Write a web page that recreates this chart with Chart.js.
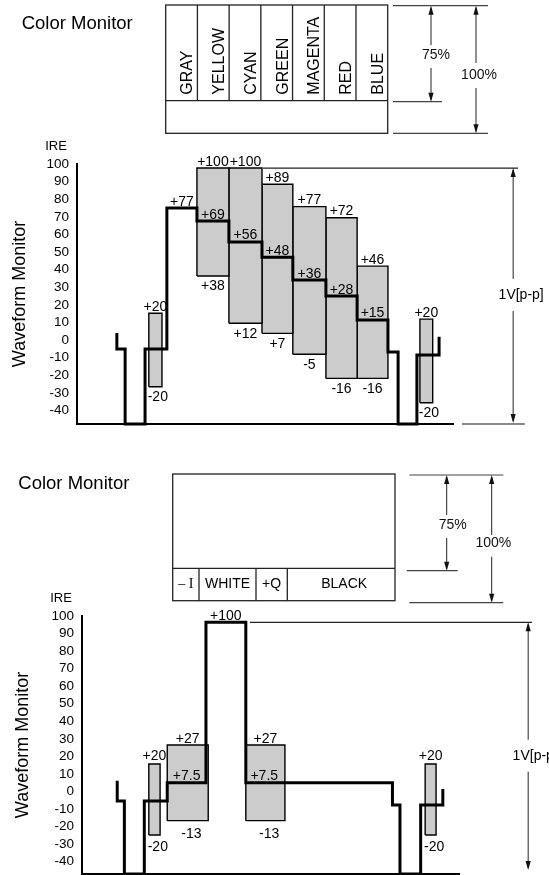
<!DOCTYPE html>
<html>
<head>
<meta charset="utf-8">
<script src="https://cdn.jsdelivr.net/npm/chart.js@4.4.0/dist/chart.umd.min.js"></script>
<style>
  html, body { margin: 0; padding: 0; background: #fff; }
  #wrap { position: relative; width: 549px; height: 875px; overflow: hidden; }
  canvas { position: absolute; left: 0; top: 0; }
</style>
</head>
<body>
<div id="wrap">
  <canvas id="barsChart" width="549" height="875"></canvas>
  <canvas id="pulseChart" width="549" height="875"></canvas>
</div>
<script>
const FONT = '"Liberation Sans", Arial, Helvetica, sans-serif';
Chart.defaults.font.family = FONT;
Chart.defaults.color = '#000';

const yTicks = [100, 90, 80, 70, 60, 50, 40, 30, 20, 10, 0, -10, -20, -30, -40];

// upper figure: colour bars
const barNames = ['GRAY', 'YELLOW', 'CYAN', 'GREEN', 'MAGENTA', 'RED', 'BLUE'];
const barsWaveX = [10.6, 10.6, 12.8, 12.8, 18.1, 18.1, 23.9, 23.9, 31.9, 31.9, 40.4, 40.4, 49.2, 49.2,
                   57.4, 57.4, 66.2, 66.2, 74.5, 74.5, 82.7, 82.7, 85.4, 85.4, 90.4, 90.4, 96.3, 96.3];
const barsWaveY = [4, -5.1, -5.1, -47.7, -47.7, -5.1, -5.1, 75, 75, 67.6, 67.6, 55.7, 55.7, 47,
                   47, 34.1, 34.1, 25, 25, 11.4, 11.4, -6.8, -6.8, -47.7, -47.7, -8.5, -8.5, 1.9];
const grayLevel = 75;
const grayText = '+77';
const chromaStart = [31.9, 40.4, 49.2, 57.4, 66.2, 74.5];
const chromaEnd = [40.4, 49.2, 57.4, 66.2, 74.5, 82.7];
const chromaHigh = [97.7, 97.7, 88.5, 75.8, 69.5, 42];
const chromaLow = [36.4, 9.5, 3.8, -8.1, -21.8, -21.8];
const lumaLevel = [67.6, 55.7, 47, 34.1, 25, 11.4];
const chromaHighText = ['+100', '+100', '+89', '+77', '+72', '+46'];
const chromaLowText = ['+38', '+12', '+7', '-5', '-16', '-16'];
const lumaText = ['+69', '+56', '+48', '+36', '+28', '+15'];
const barsBurstStart = [19.1, 91.2];
const barsBurstEnd = [22.6, 94.6];
const barsBurstHigh = [15.2, 11.9];
const barsBurstLow = [-26.5, -35.6];

// lower figure: -I / white / +Q / black
const pulseNames = ['\u2013 I', 'WHITE', '+Q', 'BLACK'];
const pulseWaveX = [10.7, 10.7, 12.6, 12.6, 17.9, 17.9, 24.0, 24.0, 34.3, 34.3,
                    44.9, 44.9, 83.9, 83.9, 85.9, 85.9, 91.4, 91.4, 97.3, 97.3];
const pulseWaveY = [6.2, -5.4, -5.4, -47, -47, -5.4, -5.4, 5, 5, 96.4,
                    96.4, 5, 5, -7.7, -7.7, -47, -47, -7.7, -7.7, 1.4];
const whiteLevel = 96.4;
const whiteText = '+100';
const iqStart = [24.0, 44.9];
const iqEnd = [34.9, 55.3];
const iqHigh = [26.5, 26.5];
const iqLow = [-16.6, -16.6];
const setupLevel = 5;
const iqHighText = ['+27', '+27'];
const iqLowText = ['-13', '-13'];
const setupText = ['+7.5', '+7.5'];
const pulseBurstStart = [19.1, 92.6];
const pulseBurstEnd = [22.1, 95.5];
const pulseBurstHigh = [15.7, 15.7];
const pulseBurstLow = [-24.8, -24.8];
const burstText = ['+20', '-20'];

function rect(x0, x1, lo, hi) {
  return [{x: x0, y: lo}, {x: x0, y: hi}, {x: x1, y: hi}, {x: x1, y: lo}, {x: x0, y: lo}];
}
function boxSet(x0, x1, lo, hi) {
  return {
    data: rect(x0, x1, lo, hi), borderColor: '#000', borderWidth: 1.4,
    backgroundColor: '#cccccc', fill: 'shape', pointRadius: 0, tension: 0,
    borderJoinStyle: 'miter', clip: false, order: 2
  };
}
function waveSet(xs, ys) {
  return {
    data: xs.map((x, i) => ({x: x, y: ys[i]})), borderColor: '#000', borderWidth: 3,
    fill: false, pointRadius: 0, tension: 0, borderJoinStyle: 'miter', clip: false, order: 1
  };
}

function head(ctx, x, y, dir) {
  ctx.beginPath();
  ctx.moveTo(x, y);
  ctx.lineTo(x - 2.6, y - dir * 9);
  ctx.lineTo(x + 2.6, y - dir * 9);
  ctx.closePath();
  ctx.fill();
}
function dimArrow(ctx, x, y0, y1, g0, g1) {
  ctx.beginPath();
  ctx.moveTo(x, y0 + 2); ctx.lineTo(x, g0);
  ctx.moveTo(x, g1); ctx.lineTo(x, y1 - 2);
  ctx.stroke();
  head(ctx, x, y0, -1);
  head(ctx, x, y1, 1);
}

function sketch(cfg) {
  return {
    id: 'sketch',
    afterDatasetsDraw(chart) {
      const {ctx} = chart;
      const sx = chart.scales.x, sy = chart.scales.y;
      ctx.save();
      ctx.font = '14px ' + FONT;
      ctx.fillStyle = '#000';
      ctx.textBaseline = 'alphabetic';
      cfg.labels.forEach(l => {
        const px = sx.getPixelForValue(l.x), py = sy.getPixelForValue(l.y);
        ctx.textAlign = l.align || 'center';
        if (l.pos === 'above') ctx.fillText(l.text, px, py - 2.5);
        else ctx.fillText(l.text, px, py + 14.5);
      });
      ctx.restore();
    },
    afterDraw(chart) {
      const {ctx, chartArea} = chart;
      const sx = chart.scales.x, sy = chart.scales.y;
      ctx.save();
      ctx.fillStyle = '#000';
      // IRE over the axis
      ctx.font = '13px ' + FONT;
      ctx.textAlign = 'center';
      ctx.textBaseline = 'middle';
      ctx.fillText('IRE', chartArea.left - 21, chartArea.top - 17.5);

      // colour monitor caption
      ctx.font = '18.5px ' + FONT;
      ctx.textAlign = 'left';
      ctx.fillText('Color Monitor', cfg.caption.x, cfg.caption.y);

      // monitor screen
      const m = cfg.monitor;
      ctx.strokeStyle = '#222';
      ctx.lineWidth = 1.3;
      ctx.strokeRect(m.left, m.top, m.right - m.left, m.bottom - m.top);
      ctx.beginPath();
      ctx.moveTo(m.left, m.row); ctx.lineTo(m.right, m.row);
      let cx = m.left;
      const edges = [];
      m.widths.forEach(w => { edges.push([cx, cx + w]); cx += w; });
      edges.slice(0, -1).forEach(e => {
        ctx.moveTo(e[1], m.vertical ? m.top : m.row);
        ctx.lineTo(e[1], m.vertical ? m.row : m.bottom);
      });
      ctx.stroke();
      m.names.forEach((name, i) => {
        const e = edges[i];
        if (m.vertical) {
          ctx.save();
          ctx.font = '16px ' + FONT;
          ctx.translate(e[1] - 5, m.row - 6);
          ctx.rotate(-Math.PI / 2);
          ctx.textAlign = 'left';
          ctx.textBaseline = 'alphabetic';
          ctx.fillText(name, 0, 0);
          ctx.restore();
        } else {
          ctx.font = (i === 0 ? '14px "Liberation Serif", serif' : '14px ' + FONT);
          ctx.textAlign = 'center';
          ctx.textBaseline = 'middle';
          ctx.fillText(name, (e[0] + e[1]) / 2 + (m.shift[i] || 0), (m.row + m.bottom) / 2);
        }
      });

      // 75% / 100% dimension marks
      ctx.strokeStyle = '#444';
      ctx.lineWidth = 1.2;
      ctx.beginPath();
      cfg.dims.lines.forEach(l => { ctx.moveTo(l[0], l[2]); ctx.lineTo(l[1], l[2]); });
      ctx.stroke();
      ctx.strokeStyle = '#222';
      ctx.lineWidth = 1;
      ctx.fillStyle = '#111';
      ctx.font = '14px ' + FONT;
      ctx.textAlign = 'center';
      ctx.textBaseline = 'middle';
      cfg.dims.arrows.forEach(a => {
        dimArrow(ctx, a.x, a.y0, a.y1, a.g0, a.g1);
        ctx.fillText(a.text, a.tx, a.ty);
      });

      // 1V[p-p] reference
      const v = cfg.volt;
      const ax = sx.getPixelForValue(v.x);
      const yTop = sy.getPixelForValue(v.top);
      const yBot = sy.getPixelForValue(v.bottom);
      const yTxt = sy.getPixelForValue(v.textAt);
      ctx.strokeStyle = '#222';
      ctx.lineWidth = 1.2;
      ctx.beginPath();
      ctx.moveTo(sx.getPixelForValue(v.lineFrom), yTop);
      ctx.lineTo(sx.getPixelForValue(v.lineTo), yTop);
      ctx.stroke();
      if (v.baseFrom !== undefined) {
        ctx.strokeStyle = '#888';
        ctx.lineWidth = 2;
        ctx.beginPath();
        ctx.moveTo(sx.getPixelForValue(v.baseFrom), yBot);
        ctx.lineTo(sx.getPixelForValue(v.baseTo), yBot);
        ctx.stroke();
      }
      ctx.strokeStyle = '#222';
      ctx.lineWidth = 1;
      dimArrow(ctx, ax, yTop, yBot - v.tipLift, yTxt - 16, yTxt + 16);
      ctx.fillStyle = '#000';
      ctx.fillText('1V[p-p]', ax + v.textDx, yTxt);
      ctx.restore();
    }
  };
}

// label lists built from the data
const barsLabels = [{x: 27.9, y: grayLevel, text: grayText, pos: 'above'}];
chromaStart.forEach((x0, i) => {
  const c = (x0 + chromaEnd[i]) / 2;
  barsLabels.push({x: c, y: chromaHigh[i], text: chromaHighText[i], pos: 'above'});
  barsLabels.push({x: c, y: chromaLow[i], text: chromaLowText[i], pos: 'below'});
  barsLabels.push({x: c, y: lumaLevel[i], text: lumaText[i], pos: 'above'});
});
barsBurstStart.forEach((x0, i) => {
  barsLabels.push({x: (x0 + barsBurstEnd[i]) / 2, y: barsBurstHigh[i], text: burstText[0], pos: 'above'});
  barsLabels.push({x: x0 - 0.3, y: barsBurstLow[i], text: burstText[1], pos: 'below', align: 'left'});
});

const pulseLabels = [{x: (34.3 + 44.9) / 2, y: whiteLevel, text: whiteText, pos: 'above'}];
iqStart.forEach((x0, i) => {
  const c = (x0 + iqEnd[i]) / 2;
  pulseLabels.push({x: c, y: iqHigh[i], text: iqHighText[i], pos: 'above'});
  pulseLabels.push({x: c + 1, y: iqLow[i] - 1.5, text: iqLowText[i], pos: 'below'});
  pulseLabels.push({x: c - 0.3, y: setupLevel, text: setupText[i], pos: 'above'});
});
pulseBurstStart.forEach((x0, i) => {
  pulseLabels.push({x: (x0 + pulseBurstEnd[i]) / 2, y: pulseBurstHigh[i] + 1, text: burstText[0], pos: 'above'});
  pulseLabels.push({x: x0 - 0.3, y: pulseBurstLow[i] - 1, text: burstText[1], pos: 'below', align: 'left'});
});

function axes(xMin, xMax, yMin, axisWidth, titlePad) {
  return {
    x: {
      type: 'linear', min: xMin, max: xMax,
      grid: {display: false, drawTicks: false},
      ticks: {display: false},
      border: {display: true, color: '#000', width: 2},
      afterFit: s => { s.height = 0; s.paddingLeft = 0; s.paddingRight = 0; }
    },
    y: {
      type: 'linear', min: yMin, max: 100,
      afterBuildTicks: s => { s.ticks = yTicks.map(v => ({value: v})); },
      afterFit: s => { s.width = axisWidth; s.paddingTop = 0; s.paddingBottom = 0; },
      grid: {display: false, drawTicks: false},
      border: {display: true, color: '#000', width: 2},
      ticks: {font: {size: 13.5}, color: '#000', padding: 8, autoSkip: false, callback: v => String(v)},
      title: {display: true, text: 'Waveform Monitor', color: '#000', font: {size: 18}, padding: {top: titlePad, bottom: 0}}
    }
  };
}

const barsSets = [waveSet(barsWaveX, barsWaveY)];
chromaStart.forEach((x0, i) => barsSets.push(boxSet(x0, chromaEnd[i], chromaLow[i], chromaHigh[i])));
barsBurstStart.forEach((x0, i) => barsSets.push(boxSet(x0, barsBurstEnd[i], barsBurstLow[i], barsBurstHigh[i])));

new Chart(document.getElementById('barsChart'), {
  type: 'line',
  data: {datasets: barsSets},
  options: {
    responsive: false, animation: false, events: [],
    layout: {padding: {top: 164, right: 96, bottom: 451, left: 0}},
    scales: axes(0, 100, -47.7, 77, 9),
    plugins: {legend: {display: false}, tooltip: {enabled: false}}
  },
  plugins: [sketch({
    labels: barsLabels,
    caption: {x: 21.7, y: 24},
    monitor: {left: 165.7, top: 5, right: 387.7, bottom: 133.3, row: 100.7,
              widths: barNames.map(() => 222 / barNames.length), names: barNames, vertical: true},
    dims: {
      lines: [[393, 488, 5.7], [393, 442, 101.7], [393, 488, 133.3]],
      arrows: [
        {x: 431, y0: 5.7, y1: 101.7, g0: 45, g1: 68, text: '75%', tx: 436, ty: 55},
        {x: 476, y0: 5.7, y1: 133.3, g0: 63, g1: 88, text: '100%', tx: 479, ty: 75}
      ]
    },
    volt: {x: 116, top: 97.7, bottom: -47.7, textAt: 25.6, textDx: 8, tipLift: 1,
           lineFrom: 49.5, lineTo: 117.3, baseFrom: 102.4, baseTo: 119.1}
  })]
});

const pulseSets = [waveSet(pulseWaveX, pulseWaveY)];
iqStart.forEach((x0, i) => pulseSets.push(boxSet(x0, iqEnd[i], iqLow[i], iqHigh[i])));
pulseBurstStart.forEach((x0, i) => pulseSets.push(boxSet(x0, pulseBurstEnd[i], pulseBurstLow[i], pulseBurstHigh[i])));

new Chart(document.getElementById('pulseChart'), {
  type: 'line',
  data: {datasets: pulseSets},
  options: {
    responsive: false, animation: false, events: [],
    layout: {padding: {top: 616, right: 90, bottom: 1, left: 0}},
    scales: axes(1.33, 101.6, -47, 82, 12),
    plugins: {legend: {display: false}, tooltip: {enabled: false}}
  },
  plugins: [sketch({
    labels: pulseLabels,
    caption: {x: 18.3, y: 484},
    monitor: {left: 172.7, top: 474, right: 395, bottom: 600.7, row: 568.3,
              widths: [26.3, 57, 31.3, 107.7], names: pulseNames, vertical: false, shift: [0, 0, 0, 3]},
    dims: {
      lines: [[409.3, 503.3, 475], [406.7, 457.7, 570.7], [409.3, 503.3, 602.7]],
      arrows: [
        {x: 446.7, y0: 475, y1: 570.7, g0: 515, g1: 538, text: '75%', tx: 452.7, ty: 525},
        {x: 491.7, y0: 475, y1: 602.7, g0: 535, g1: 556.7, text: '100%', tx: 493.3, ty: 543.3}
      ]
    },
    volt: {x: 120, top: 96.4, bottom: -47, textAt: 20.4, textDx: 7, tipLift: 4,
           lineFrom: 46, lineTo: 121}
  })]
});
</script>
</body>
</html>
